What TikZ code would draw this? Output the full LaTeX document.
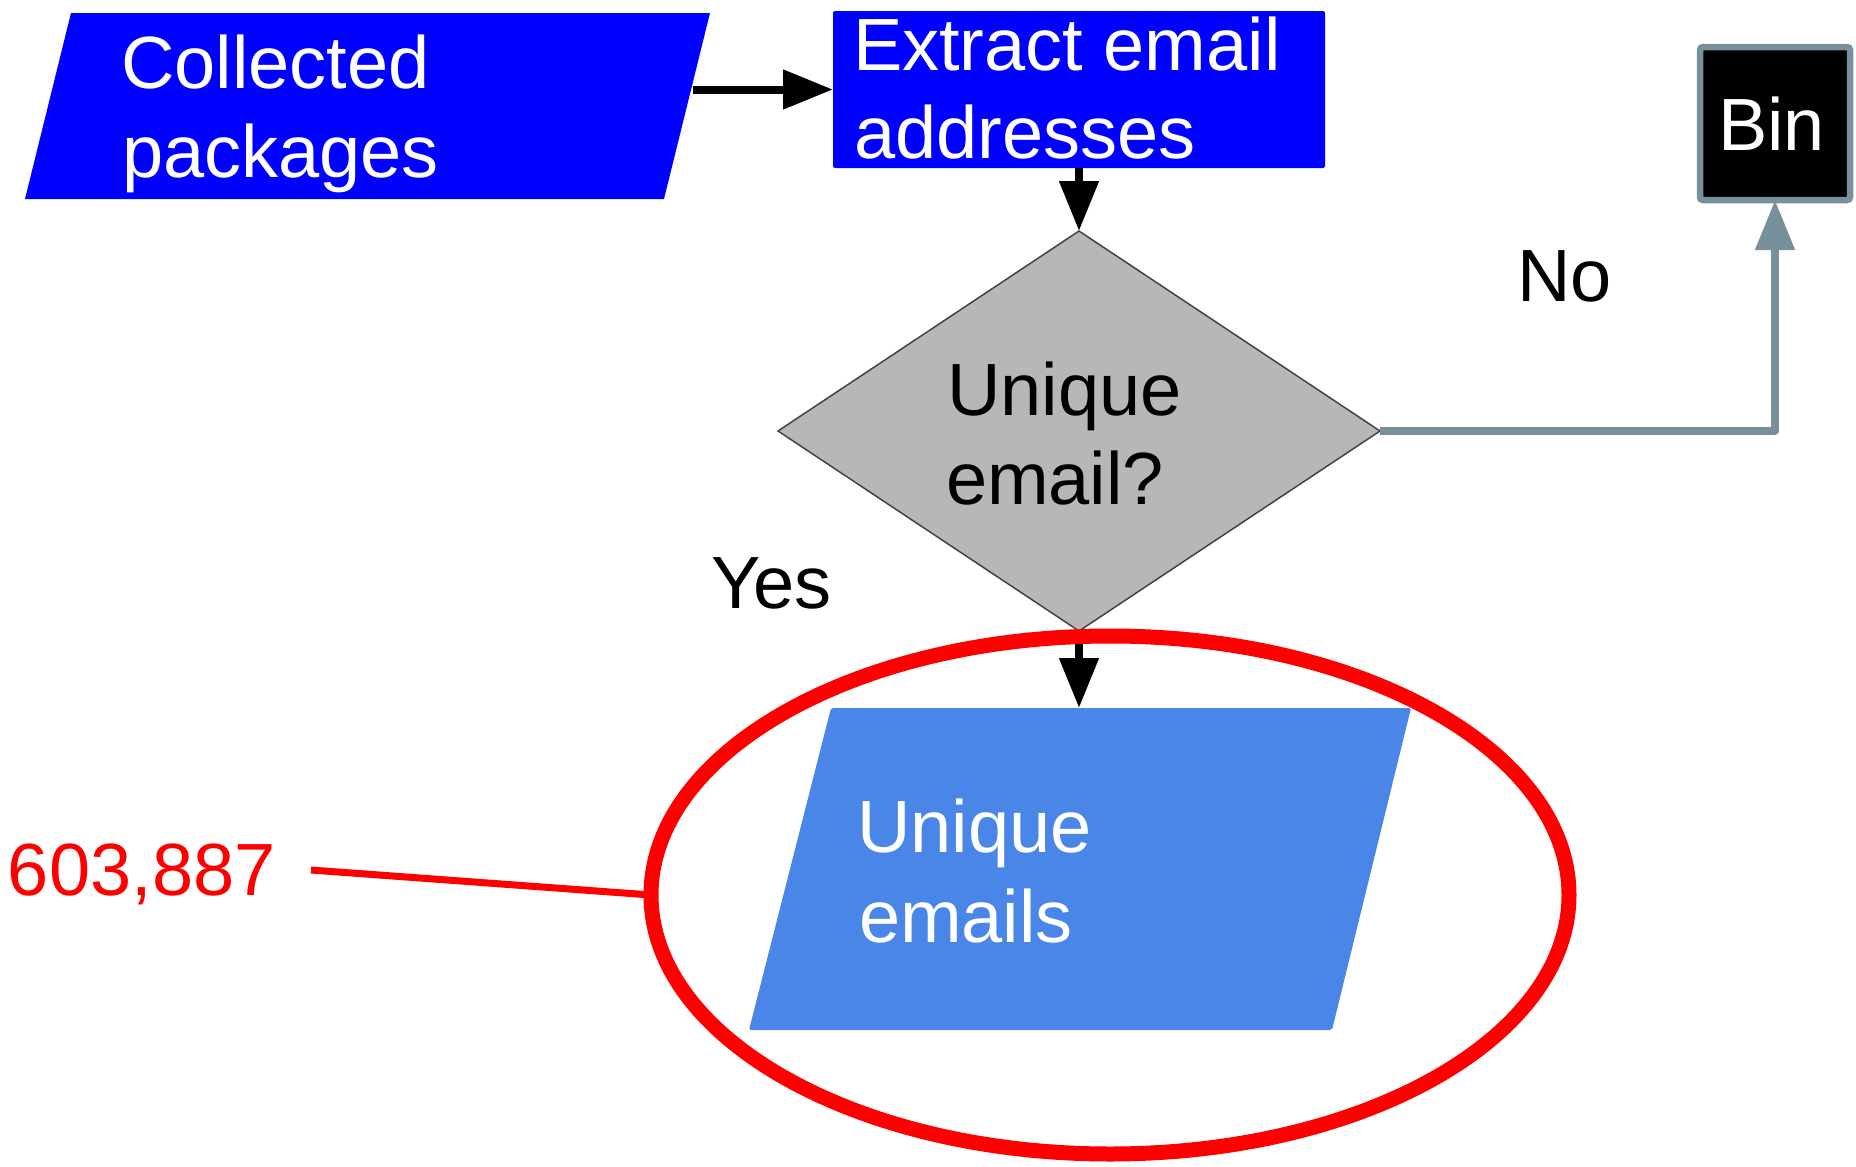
\documentclass[tikz,border=0pt]{standalone}
\usepackage{fontspec}
\setmainfont{Liberation Sans}
\usetikzlibrary{arrows.meta,shapes.geometric}

\definecolor{pureblue}{HTML}{0000FF}
\definecolor{sky}{HTML}{4A86E8}
\definecolor{decgray}{HTML}{B7B7B7}
\definecolor{edgegray}{HTML}{434343}
\definecolor{slate}{HTML}{78909C}
\definecolor{alertred}{HTML}{FF0000}

\tikzset{
  lbl/.style={anchor=base west, inner sep=0pt, outer sep=0pt,
              font=\fontsize{74}{88}\selectfont},
  procbox/.style={rectangle, fill=pureblue, rounded corners=2pt,
                  minimum width=492pt, minimum height=157pt,
                  inner sep=0pt, outer sep=0pt},
  decision/.style={diamond, fill=decgray, draw=edgegray, line width=1.5pt,
                   minimum width=602pt, minimum height=400pt,
                   inner sep=0pt, outer sep=0pt},
  binbox/.style={rectangle, fill=black, draw=slate, line width=6.5pt,
                 rounded corners=3pt, minimum width=150pt, minimum height=153pt,
                 inner sep=0pt, outer sep=0pt},
  ring/.style={ellipse, draw=alertred, line width=15pt,
               minimum width=918pt, minimum height=518pt,
               inner sep=0pt, outer sep=0pt},
  flow/.style={draw=black, line width=8pt,
               -{Triangle[length=50pt,width=38pt]}},
  reject/.style={draw=slate, line width=8pt, line join=round,
                 -{Triangle[length=50pt,width=38pt]}},
}

\begin{document}
\begin{tikzpicture}[x=1pt,y=-1pt]
\useasboundingbox (0,0) rectangle (1856,1167);

% input: collected packages
\fill[pureblue] (25,199) -- (71,13) -- (710,13) -- (664,199) -- cycle;
\node[lbl, text=white] (coll1) at (121,88) {Collected};
\node[lbl, text=white] (coll2) at (122,177) {packages};
\coordinate (collOut) at (693,89.5);

% process step
\node[procbox] (extract) at (1079,89.5) {};
\node[lbl, text=white] (ext1) at (853,70) {Extract email};
\node[lbl, text=white] (ext2) at (854,158) {addresses};

% decision
\node[decision] (dia) at (1079,431) {};
\node[lbl] (q1) at (947,415) {Unique};
\node[lbl] (q2) at (946,504) {email?};

% discarded duplicates
\node[binbox] (bin) at (1775,123.5) {};
\node[lbl, text=white] (binl) at (1718,150) {Bin};

% output
\fill[sky, rounded corners=2pt] (749,1030) -- (831,708) -- (1411,708) -- (1332,1030) -- cycle;
\coordinate (ueIn) at (1079,708);
\node[lbl, text=white] (ue1) at (857,852) {Unique};
\node[lbl, text=white] (ue2) at (859,942) {emails};

% connectors
\draw[flow] (collOut) -- (extract.west);
\draw[flow] (extract.south) -- (dia.north);
\draw[flow] (dia.south) -- (ueIn);
\draw[reject] (dia.east) -| (bin.south);
\node[lbl] (no) at (1517,301) {No};
\node[lbl] (yes) at (711,608) {Yes};

% highlight with count
\node[ring] (hl) at (1110,895) {};
\node[lbl, text=alertred] (count) at (8,895) {603,887};
\coordinate (countEnd) at (311,870);
\draw[alertred, line width=7pt] (countEnd) -- (hl.west);
\end{tikzpicture}
\end{document}
